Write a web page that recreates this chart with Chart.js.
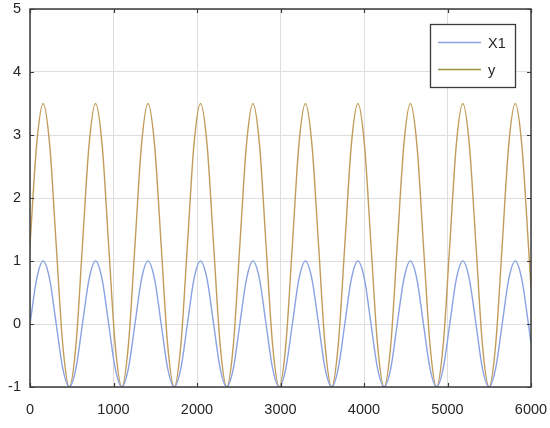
<!DOCTYPE html>
<html>
<head>
<meta charset="utf-8">
<script src="https://cdn.jsdelivr.net/npm/chart.js@4/dist/chart.umd.min.js"></script>
<style>
html,body{margin:0;padding:0;background:#fff;}
#wrap{width:550px;height:428px;position:relative;}
</style>
</head>
<body>
<div id="wrap"><canvas id="c" width="550" height="428"></canvas></div>
<script>
// x positions (samples)
const xs = [0,79,157,236,314,393,471,550,628,707,785,864,942,1021,1100,1178,1257,1335,1414,1492,1571,1649,1728,1806,1885,1963,2042,2121,2199,2278,2356,2435,2513,2592,2670,2749,2827,2906,2985,3063,3142,3220,3299,3377,3456,3534,3613,3691,3770,3848,3927,4006,4084,4163,4241,4320,4398,4477,4555,4634,4712,4791,4869,4948,5027,5105,5184,5262,5341,5419,5498,5576,5655,5733,5812,5890,5969,6000];
// X1 series values
const x1Vals = [0,0.71,1,0.71,0,-0.71,-1,-0.71,
  0,0.71,1,0.71,0,-0.71,-1,-0.71,
  0,0.71,1,0.71,0,-0.71,-1,-0.71,
  0,0.71,1,0.71,0,-0.71,-1,-0.71,
  0,0.71,1,0.71,0,-0.71,-1,-0.71,
  0,0.71,1,0.71,0,-0.71,-1,-0.71,
  0,0.71,1,0.71,0,-0.71,-1,-0.71,
  0,0.71,1,0.71,0,-0.71,-1,-0.71,
  0,0.71,1,0.71,0,-0.71,-1,-0.71,
  0,0.71,1,0.71,0,-0.3];
// y series values
const yVals = [1.25,2.84,3.5,2.84,1.25,-0.34,-1,-0.34,
  1.25,2.84,3.5,2.84,1.25,-0.34,-1,-0.34,
  1.25,2.84,3.5,2.84,1.25,-0.34,-1,-0.34,
  1.25,2.84,3.5,2.84,1.25,-0.34,-1,-0.34,
  1.25,2.84,3.5,2.84,1.25,-0.34,-1,-0.34,
  1.25,2.84,3.5,2.84,1.25,-0.34,-1,-0.34,
  1.25,2.84,3.5,2.84,1.25,-0.34,-1,-0.34,
  1.25,2.84,3.5,2.84,1.25,-0.34,-1,-0.34,
  1.25,2.84,3.5,2.84,1.25,-0.34,-1,-0.34,
  1.25,2.84,3.5,2.84,1.25,0.56];
const seriesNames = ['X1','y'];
const xTicks = [0,1000,2000,3000,4000,5000,6000];
const yTicks = [-1,0,1,2,3,4,5];

const colors = ['#8aa2e2','#c29c5a'];
const legendColors = ['#8ea3e0','#9c9245'];
const textColor = '#262626';
const fontFam = '"Liberation Sans", Arial, sans-serif';

function pts(vals){ return xs.map((x,i)=>({x:x,y:vals[i]})); }

const framePlugin = {
  id:'frame',
  afterDraw(chart){
    const {ctx, chartArea:a, scales} = chart;
    ctx.save();
    ctx.strokeStyle = '#3a3a3a';
    ctx.lineWidth = 1.5;
    ctx.strokeRect(a.left, a.top, a.right-a.left, a.bottom-a.top);
    ctx.lineWidth = 1.2;
    ctx.beginPath();
    const tl = 4;
    xTicks.forEach(v=>{
      const px = Math.round(scales.x.getPixelForValue(v))+0.5;
      ctx.moveTo(px,a.bottom); ctx.lineTo(px,a.bottom-tl);
      ctx.moveTo(px,a.top); ctx.lineTo(px,a.top+tl);
    });
    yTicks.forEach(v=>{
      const py = Math.round(scales.y.getPixelForValue(v))+0.5;
      ctx.moveTo(a.left,py); ctx.lineTo(a.left+tl,py);
      ctx.moveTo(a.right,py); ctx.lineTo(a.right-tl,py);
    });
    ctx.stroke();
    // legend
    const bx=430.5, by=24.5, bw=85, bh=63;
    ctx.fillStyle='#fff';
    ctx.fillRect(bx,by,bw,bh);
    ctx.strokeStyle='#3a3a3a';
    ctx.lineWidth=1.3;
    ctx.strokeRect(bx,by,bw,bh);
    ctx.font = '14.5px '+fontFam;
    ctx.textBaseline='middle';
    ctx.textAlign='left';
    chart.data.datasets.forEach((ds,i)=>{
      const ly = 42.5 + i*27;
      ctx.strokeStyle = legendColors[i];
      ctx.lineWidth = 1.6;
      ctx.beginPath(); ctx.moveTo(438,ly); ctx.lineTo(481,ly); ctx.stroke();
      ctx.fillStyle = textColor;
      ctx.fillText(ds.label, 488, ly+1);
    });
    ctx.restore();
  }
};

new Chart(document.getElementById('c'), {
  type:'line',
  data:{
    datasets: [
      {label:seriesNames[0], data:pts(x1Vals), borderColor:colors[0], borderWidth:1.4, pointRadius:0, cubicInterpolationMode:'monotone', fill:false},
      {label:seriesNames[1], data:pts(yVals), borderColor:colors[1], borderWidth:1.4, pointRadius:0, cubicInterpolationMode:'monotone', fill:false}
    ]
  },
  options:{
    responsive:false,
    animation:false,
    layout:{padding:{top:9,right:19,left:0,bottom:0}},
    plugins:{legend:{display:false}, tooltip:{enabled:false}},
    scales:{
      x:{type:'linear', min:0, max:6000,
        afterBuildTicks(s){ s.ticks = xTicks.map(v=>({value:v})); },
        afterFit(s){ s.height = 41; s.paddingLeft = 0; s.paddingRight = 0; },
        grid:{color:'#dedede', lineWidth:1, drawTicks:false},
        border:{display:false},
        ticks:{color:textColor, font:{family:fontFam, size:14.5}, padding:14, maxRotation:0, callback:v=>String(v)}
      },
      y:{type:'linear', min:-1, max:5,
        afterBuildTicks(s){ s.ticks = yTicks.map(v=>({value:v})); },
        afterFit(s){ s.width = 30; s.paddingTop = 0; s.paddingBottom = 0; },
        grid:{color:'#dedede', lineWidth:1, drawTicks:false},
        border:{display:false},
        ticks:{color:textColor, font:{family:fontFam, size:14.5}, padding:9, callback:v=>String(v)}
      }
    }
  },
  plugins:[framePlugin]
});
</script>
</body>
</html>
